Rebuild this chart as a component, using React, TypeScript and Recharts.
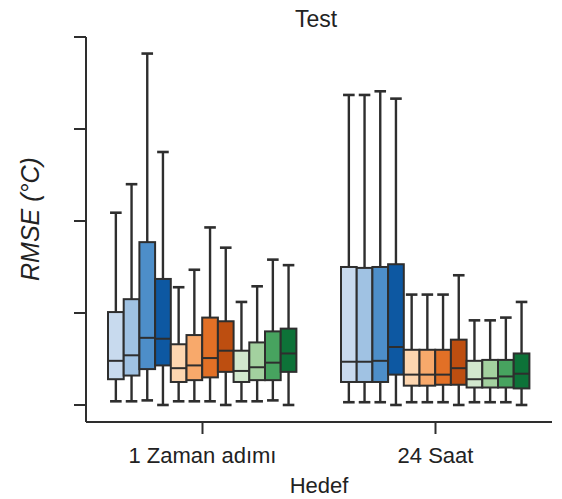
import { ComposedChart, Bar, XAxis, YAxis } from "recharts";

// target groups on the x axis
const groups = ["1 Zaman adımı", "24 Saat"];

// 12 boxes per group: 4 blue, 4 orange, 4 green
const boxColors = [
  "#c8daee", "#a0c2e3", "#4d8ec9", "#0d58a2",
  "#fdd6b0", "#f8a96b", "#e27026", "#bd4e10",
  "#d2e8ce", "#a3d19f", "#47a35f", "#0d7238",
];

// box statistics, group 1 (1 Zaman adımı)
const lowG1 = [0.04, 0.04, 0.05, 0.0, 0.04, 0.04, 0.04, 0.0, 0.04, 0.04, 0.05, 0.0];
const q1G1 = [0.28, 0.32, 0.39, 0.43, 0.25, 0.27, 0.3, 0.36, 0.25, 0.27, 0.27, 0.36];
const medG1 = [0.48, 0.54, 0.73, 0.72, 0.4, 0.43, 0.51, 0.59, 0.37, 0.41, 0.46, 0.56];
const q3G1 = [1.01, 1.15, 1.77, 1.37, 0.66, 0.76, 0.95, 0.91, 0.59, 0.68, 0.8, 0.83];
const highG1 = [2.09, 2.4, 3.82, 2.75, 1.28, 1.47, 1.93, 1.71, 1.12, 1.29, 1.58, 1.52];

// box statistics, group 2 (24 Saat)
const lowG2 = [0.03, 0.03, 0.03, 0.0, 0.03, 0.03, 0.03, 0.0, 0.03, 0.03, 0.03, 0.0];
const q1G2 = [0.25, 0.25, 0.25, 0.33, 0.21, 0.21, 0.22, 0.22, 0.19, 0.19, 0.19, 0.18];
const medG2 = [0.47, 0.47, 0.48, 0.63, 0.33, 0.33, 0.33, 0.4, 0.28, 0.29, 0.31, 0.34];
const q3G2 = [1.5, 1.49, 1.5, 1.53, 0.6, 0.6, 0.6, 0.71, 0.48, 0.49, 0.49, 0.56];
const highG2 = [3.37, 3.37, 3.41, 3.33, 1.2, 1.2, 1.2, 1.41, 0.92, 0.92, 0.95, 1.12];

const yTicks = [0, 1, 2, 3, 4];

const stats = [
  { low: lowG1, q1: q1G1, med: medG1, q3: q3G1, high: highG1 },
  { low: lowG2, q1: q1G2, med: medG2, q3: q3G2, high: highG2 },
];

const data = groups.map((name, g) => {
  const row: any = { name };
  boxColors.forEach((_, i) => {
    row[`b${i}`] = [stats[g].q1[i], stats[g].q3[i]];
    row[`s${i}`] = {
      low: stats[g].low[i],
      med: stats[g].med[i],
      high: stats[g].high[i],
      q1: stats[g].q1[i],
      q3: stats[g].q3[i],
    };
  });
  return row;
});

const INK = "#2e2e2e";
const FONT = "'Liberation Sans', Arial, sans-serif";

const makeBox = (i: number) => (props: any) => {
  const { x, y, width, height, payload } = props;
  const s = payload[`s${i}`];
  if (!s || !height) return <g />;
  // pixels per unit taken from the bar the library scaled
  const ppu = height / (s.q3 - s.q1);
  const yOf = (v: number) => y + (s.q3 - v) * ppu;
  const cx = x + width / 2;
  const cap = 5.8;
  return (
    <g>
      <line x1={cx} x2={cx} y1={yOf(s.high)} y2={y} stroke={INK} strokeWidth={2.4} />
      <line x1={cx} x2={cx} y1={y + height} y2={yOf(s.low)} stroke={INK} strokeWidth={2.4} />
      <line x1={cx - cap} x2={cx + cap} y1={yOf(s.high)} y2={yOf(s.high)} stroke={INK} strokeWidth={2.6} />
      <line x1={cx - cap} x2={cx + cap} y1={yOf(s.low)} y2={yOf(s.low)} stroke={INK} strokeWidth={2.6} />
      <rect x={x} y={y} width={width} height={height} fill={boxColors[i]} stroke={INK} strokeWidth={2} />
      <line x1={x} x2={x + width} y1={yOf(s.med)} y2={yOf(s.med)} stroke={INK} strokeWidth={2} />
    </g>
  );
};

export default function App() {
  return (
    <div style={{ position: "absolute", left: 0, top: 0, width: 562, height: 499, background: "#fff" }}>
      <div
        style={{
          position: "absolute",
          left: 216,
          width: 200,
          top: 6,
          textAlign: "center",
          fontFamily: FONT,
          fontSize: 23,
          color: "#222",
        }}
      >
        Test
      </div>
      <ComposedChart
        width={562}
        height={499}
        data={data}
        margin={{ top: 37, right: 10, bottom: 0, left: 0 }}
        barSize={15.7}
        barGap={0}
      >
        <XAxis
          dataKey="name"
          height={77}
          tickSize={12}
          tickMargin={13}
          axisLine={{ stroke: INK, strokeWidth: 2 }}
          tickLine={{ stroke: INK, strokeWidth: 2 }}
          tick={{ fill: "#222", fontSize: 22, fontFamily: FONT }}
          label={{
            value: "Hedef",
            position: "insideBottom",
            offset: 6,
            fill: "#222",
            fontSize: 22,
            fontFamily: FONT,
          }}
        />
        <YAxis
          width={86}
          type="number"
          domain={[-0.185, 4]}
          ticks={yTicks}
          allowDataOverflow
          tickSize={12}
          tickFormatter={() => ""}
          axisLine={{ stroke: INK, strokeWidth: 2 }}
          tickLine={{ stroke: INK, strokeWidth: 2 }}
          label={{
            value: "RMSE (°C)",
            content: () => (
              <text
                x={30}
                y={219}
                transform="rotate(-90, 30, 219)"
                textAnchor="middle"
                dominantBaseline="central"
                fontSize={25}
                fontStyle="italic"
                fontFamily={FONT}
                fill="#222"
              >
                RMSE (°C)
              </text>
            ),
          }}
        />
        {boxColors.map((c, i) => (
          <Bar
            key={i}
            dataKey={`b${i}`}
            fill={c}
            shape={makeBox(i)}
            isAnimationActive={false}
          />
        ))}
      </ComposedChart>
    </div>
  );
}
